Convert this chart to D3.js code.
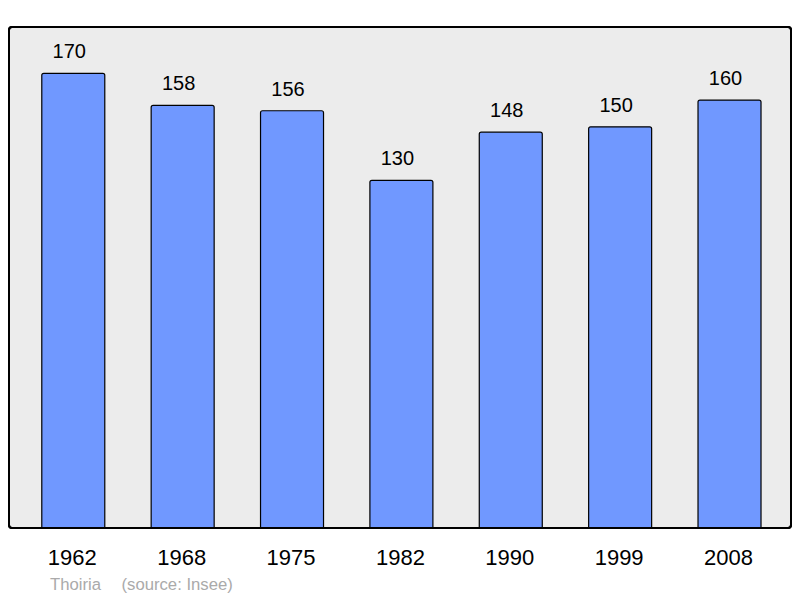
<html>
<head>
    <style>
        body { margin: 0; background: white; }
        text { font-family: "Liberation Sans", Arial, sans-serif; }
    </style>
</head>
<body>
    <svg id="container" height="598" width="800"></svg>
</body>
<script src="https://cdn.jsdelivr.net/npm/d3@7"></script>
<script>
    let years = ["1962", "1968", "1975", "1982", "1990", "1999", "2008"]
    let population = [170, 158, 156, 130, 148, 150, 160]
    let town = "Thoiria"
    let source = "(source: Insee)"

    let svg = d3.select("#container")

    // background panel
    svg.append("rect")
        .attr("x", 9)
        .attr("y", 27)
        .attr("width", 782)
        .attr("height", 501)
        .attr("rx", 3)
        .attr("fill", "#ececec")
        .attr("stroke", "black")
        .attr("stroke-width", 2)

    let xScale = d3.scaleBand()
        .domain(years)
        .range([18.6, 784.2])
        .paddingInner(0.424)
        .paddingOuter(0.212)

    let yScale = d3.scaleLinear()
        .domain([0, 170])
        .range([528, 73.3])

    let bars = svg.selectAll("g.bar")
        .data(years.map((y, i) => ({ year: y, value: population[i] })))
        .enter()
        .append("g")
        .attr("class", "bar")

    bars.append("rect")
        .attr("x", d => xScale(d.year))
        .attr("y", d => yScale(d.value))
        .attr("width", xScale.bandwidth())
        .attr("height", d => yScale(0) - yScale(d.value) + 3)
        .attr("rx", 2)
        .attr("fill", "#7098ff")
        .attr("stroke", "black")
        .attr("stroke-width", 1.2)

    // value labels sit a little left of the bar centre
    bars.append("text")
        .text(d => d.value)
        .attr("x", d => xScale(d.year) + xScale.bandwidth() / 2 - 4)
        .attr("y", d => yScale(d.value) - 15)
        .attr("text-anchor", "middle")
        .attr("font-size", 20)
        .attr("fill", "black")

    bars.append("text")
        .text(d => d.year)
        .attr("x", d => xScale(d.year) + xScale.bandwidth() / 2 - 1)
        .attr("y", 565)
        .attr("text-anchor", "middle")
        .attr("font-size", 22)
        .attr("fill", "black")

    // redraw panel border over bar bottoms
    svg.append("rect")
        .attr("x", 9)
        .attr("y", 27)
        .attr("width", 782)
        .attr("height", 501)
        .attr("rx", 3)
        .attr("fill", "none")
        .attr("stroke", "black")
        .attr("stroke-width", 2)

    svg.append("rect")
        .attr("x", 0)
        .attr("y", 529)
        .attr("width", 800)
        .attr("height", 4)
        .attr("fill", "white")
    svg.append("line")
        .attr("x1", 12).attr("x2", 788)
        .attr("y1", 528).attr("y2", 528)
        .attr("stroke", "black").attr("stroke-width", 2)

    svg.append("text")
        .text(town)
        .attr("x", 50)
        .attr("y", 590)
        .attr("font-size", 16.7)
        .attr("fill", "#aaaaaa")

    svg.append("text")
        .text(source)
        .attr("x", 121.5)
        .attr("y", 590)
        .attr("font-size", 16.7)
        .attr("fill", "#aaaaaa")
</script>
</html>
